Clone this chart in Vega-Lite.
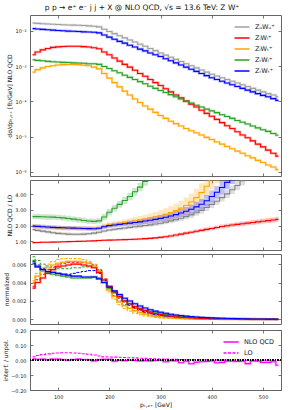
{
"$schema": "https://vega.github.io/schema/vega-lite/v6.json",
"padding": {"left": 2, "top": 3, "right": 12, "bottom": 4},
"config": {
 "font": "DejaVu Sans",
 "view": {"stroke": "#666666", "strokeWidth": 1},
 "axis": {"domain": false, "grid": false, "tickColor": "#555555", "tickSize": -3, "tickWidth": 0.8, "labelFontSize": 5, "labelColor": "#222222", "titleFontSize": 6, "titleFontWeight": "normal", "titleColor": "#111111", "labelPadding": 7, "titlePadding": 2},
 "legend": {"labelFontSize": 6.5, "labelColor": "#222222", "title": null, "padding": 2, "offset": 4, "rowPadding": 1, "symbolType": "M-1.5,0H1.5", "symbolSize": 100, "symbolStrokeWidth": 1.5, "symbolOpacity": 1, "labelOffset": 7}
},
"title": {"text": "p p → e⁺ e⁻ j j + X @ NLO QCD, √s = 13.6 TeV: Z W⁺", "fontSize": 7.5, "fontWeight": "normal", "font": "DejaVu Sans", "anchor": "middle", "offset": 3, "color": "#111111"},
"datasets": {
 "p1": [
  {"x":50,"U":0.0166,"LL":0.00209,"LT":0.000676,"TL":0.00151,"TT":0.01148},
  {"x":60,"U":0.0162,"LL":0.00251,"LT":0.000794,"TL":0.00145,"TT":0.01122},
  {"x":70,"U":0.0158,"LL":0.00288,"LT":0.000891,"TL":0.00141,"TT":0.01096},
  {"x":80,"U":0.0155,"LL":0.00316,"LT":0.000977,"TL":0.00136,"TT":0.01072},
  {"x":90,"U":0.0153,"LL":0.00339,"LT":0.00102,"TL":0.00133,"TT":0.01047},
  {"x":100,"U":0.0151,"LL":0.00351,"LT":0.00107,"TL":0.00130,"TT":0.01023},
  {"x":110,"U":0.0148,"LL":0.00359,"LT":0.00110,"TL":0.00127,"TT":0.0100},
  {"x":120,"U":0.0146,"LL":0.00363,"LT":0.00111,"TL":0.00126,"TT":0.00977},
  {"x":130,"U":0.0145,"LL":0.00363,"LT":0.00111,"TL":0.00123,"TT":0.00966},
  {"x":140,"U":0.0143,"LL":0.00363,"LT":0.00110,"TL":0.00122,"TT":0.00955},
  {"x":150,"U":0.0141,"LL":0.00355,"LT":0.00106,"TL":0.00120,"TT":0.00933},
  {"x":160,"U":0.0138,"LL":0.00347,"LT":0.00102,"TL":0.00117,"TT":0.00923},
  {"x":170,"U":0.0135,"LL":0.00331,"LT":0.000933,"TL":0.00116,"TT":0.00912},
  {"x":180,"U":0.0129,"LL":0.00309,"LT":0.000832,"TL":0.00112,"TT":0.00871},
  {"x":190,"U":0.0110,"LL":0.00251,"LT":0.000617,"TL":0.000977,"TT":0.00759},
  {"x":200,"U":0.00955,"LL":0.00209,"LT":0.000457,"TL":0.000851,"TT":0.00661},
  {"x":210,"U":0.00832,"LL":0.00170,"LT":0.000339,"TL":0.000741,"TT":0.00575},
  {"x":220,"U":0.00724,"LL":0.00138,"LT":0.000257,"TL":0.000646,"TT":0.00501},
  {"x":230,"U":0.00631,"LL":0.00112,"LT":0.000195,"TL":0.000550,"TT":0.00447},
  {"x":240,"U":0.00550,"LL":0.000933,"LT":0.000151,"TL":0.000479,"TT":0.00389},
  {"x":250,"U":0.00479,"LL":0.000759,"LT":0.000117,"TL":0.000417,"TT":0.00347},
  {"x":260,"U":0.00417,"LL":0.000617,"LT":0.0000933,"TL":0.000363,"TT":0.00302},
  {"x":270,"U":0.00363,"LL":0.000513,"LT":0.0000741,"TL":0.000316,"TT":0.00269},
  {"x":280,"U":0.00316,"LL":0.000417,"LT":0.0000603,"TL":0.000269,"TT":0.00234},
  {"x":290,"U":0.00275,"LL":0.000339,"LT":0.0000490,"TL":0.000234,"TT":0.00209},
  {"x":300,"U":0.00234,"LL":0.000282,"LT":0.0000398,"TL":0.000204,"TT":0.00186},
  {"x":310,"U":0.00204,"LL":0.000229,"LT":0.0000331,"TL":0.000178,"TT":0.00162},
  {"x":320,"U":0.00178,"LL":0.000186,"LT":0.0000275,"TL":0.000155,"TT":0.00141},
  {"x":330,"U":0.00155,"LL":0.000151,"LT":0.0000234,"TL":0.000135,"TT":0.00123},
  {"x":340,"U":0.00135,"LL":0.000126,"LT":0.0000200,"TL":0.000117,"TT":0.00107},
  {"x":350,"U":0.00117,"LL":0.000102,"LT":0.0000170,"TL":0.000102,"TT":0.000933},
  {"x":360,"U":0.00102,"LL":0.0000832,"LT":0.0000148,"TL":0.0000891,"TT":0.000813},
  {"x":370,"U":0.000891,"LL":0.0000692,"LT":0.0000129,"TL":0.0000776,"TT":0.000708},
  {"x":380,"U":0.000776,"LL":0.0000562,"LT":0.0000112,"TL":0.0000692,"TT":0.000617},
  {"x":390,"U":0.000676,"LL":0.0000457,"LT":0.00000955,"TL":0.0000603,"TT":0.000537},
  {"x":400,"U":0.000589,"LL":0.0000380,"LT":0.00000832,"TL":0.0000537,"TT":0.000468},
  {"x":410,"U":0.000525,"LL":0.0000309,"LT":0.00000708,"TL":0.0000479,"TT":0.000417},
  {"x":420,"U":0.000468,"LL":0.0000251,"LT":0.00000617,"TL":0.0000417,"TT":0.000372},
  {"x":430,"U":0.000417,"LL":0.0000204,"LT":0.00000525,"TL":0.0000372,"TT":0.000331},
  {"x":440,"U":0.000372,"LL":0.0000170,"LT":0.00000457,"TL":0.0000331,"TT":0.000295},
  {"x":450,"U":0.000331,"LL":0.0000138,"LT":0.00000389,"TL":0.0000288,"TT":0.000263},
  {"x":460,"U":0.000295,"LL":0.0000112,"LT":0.00000339,"TL":0.0000257,"TT":0.000234},
  {"x":470,"U":0.000263,"LL":0.00000933,"LT":0.00000288,"TL":0.0000229,"TT":0.000209},
  {"x":480,"U":0.000234,"LL":0.00000759,"LT":0.00000251,"TL":0.0000200,"TT":0.000186},
  {"x":490,"U":0.000209,"LL":0.00000617,"LT":0.00000214,"TL":0.0000178,"TT":0.000166},
  {"x":500,"U":0.000186,"LL":0.00000513,"LT":0.00000186,"TL":0.0000158,"TT":0.000148},
  {"x":510,"U":0.000166,"LL":0.00000417,"LT":0.00000158,"TL":0.0000141,"TT":0.000135},
  {"x":520,"U":0.000151,"LL":0.00000339,"LT":0.00000138,"TL":0.0000123,"TT":0.000120},
  {"x":530,"U":0.000135,"LL":0.00000282,"LT":0.00000117,"TL":0.0000110,"TT":0.000107}
 ],
 "p2": [
  {"s":"TL","x":50,"y":2.57,"lo":2.40,"hi":2.74},{"s":"TL","x":60,"y":2.57,"lo":2.40,"hi":2.74},{"s":"TL","x":70,"y":2.56,"lo":2.39,"hi":2.73},{"s":"TL","x":80,"y":2.55,"lo":2.38,"hi":2.72},{"s":"TL","x":90,"y":2.54,"lo":2.37,"hi":2.71},{"s":"TL","x":100,"y":2.52,"lo":2.35,"hi":2.69},{"s":"TL","x":110,"y":2.49,"lo":2.32,"hi":2.66},{"s":"TL","x":120,"y":2.45,"lo":2.28,"hi":2.62},{"s":"TL","x":130,"y":2.41,"lo":2.24,"hi":2.58},{"s":"TL","x":140,"y":2.37,"lo":2.20,"hi":2.54},{"s":"TL","x":150,"y":2.33,"lo":2.16,"hi":2.50},{"s":"TL","x":160,"y":2.29,"lo":2.12,"hi":2.46},{"s":"TL","x":170,"y":2.27,"lo":2.10,"hi":2.44},{"s":"TL","x":180,"y":2.30,"lo":2.13,"hi":2.47},{"s":"TL","x":190,"y":2.55,"lo":2.36,"hi":2.74},{"s":"TL","x":200,"y":2.85,"lo":2.65,"hi":3.05},{"s":"TL","x":210,"y":3.10,"lo":2.89,"hi":3.31},{"s":"TL","x":220,"y":3.35,"lo":3.13,"hi":3.57},{"s":"TL","x":230,"y":3.60,"lo":3.37,"hi":3.83},{"s":"TL","x":240,"y":3.85,"lo":3.61,"hi":4.09},{"s":"TL","x":250,"y":4.15,"lo":3.90,"hi":4.40},{"s":"TL","x":260,"y":4.45,"lo":4.19,"hi":4.71},{"s":"TL","x":270,"y":4.80,"lo":4.53,"hi":5.07},{"s":"TL","x":280,"y":5.15,"lo":4.87,"hi":5.43},{"s":"TL","x":290,"y":5.50,"lo":5.20,"hi":5.80},{"s":"TL","x":300,"y":5.85,"lo":5.55,"hi":6.15},
  {"s":"LT","x":50,"y":1.97,"lo":1.82,"hi":2.12},{"s":"LT","x":60,"y":1.93,"lo":1.78,"hi":2.08},{"s":"LT","x":70,"y":1.90,"lo":1.75,"hi":2.05},{"s":"LT","x":80,"y":1.88,"lo":1.73,"hi":2.03},{"s":"LT","x":90,"y":1.86,"lo":1.71,"hi":2.01},{"s":"LT","x":100,"y":1.85,"lo":1.70,"hi":2.00},{"s":"LT","x":110,"y":1.84,"lo":1.69,"hi":1.99},{"s":"LT","x":120,"y":1.83,"lo":1.68,"hi":1.98},{"s":"LT","x":130,"y":1.82,"lo":1.67,"hi":1.97},{"s":"LT","x":140,"y":1.82,"lo":1.67,"hi":1.97},{"s":"LT","x":150,"y":1.82,"lo":1.67,"hi":1.97},{"s":"LT","x":160,"y":1.83,"lo":1.68,"hi":1.98},{"s":"LT","x":170,"y":1.84,"lo":1.69,"hi":1.99},{"s":"LT","x":180,"y":1.88,"lo":1.73,"hi":2.03},{"s":"LT","x":190,"y":1.97,"lo":1.81,"hi":2.13},{"s":"LT","x":200,"y":2.05,"lo":1.88,"hi":2.22},{"s":"LT","x":210,"y":2.10,"lo":1.92,"hi":2.28},{"s":"LT","x":220,"y":2.15,"lo":1.96,"hi":2.34},{"s":"LT","x":230,"y":2.20,"lo":2.00,"hi":2.40},{"s":"LT","x":240,"y":2.25,"lo":2.03,"hi":2.47},{"s":"LT","x":250,"y":2.30,"lo":2.06,"hi":2.54},{"s":"LT","x":260,"y":2.35,"lo":2.09,"hi":2.61},{"s":"LT","x":270,"y":2.41,"lo":2.13,"hi":2.69},{"s":"LT","x":280,"y":2.48,"lo":2.18,"hi":2.78},{"s":"LT","x":290,"y":2.55,"lo":2.23,"hi":2.87},{"s":"LT","x":300,"y":2.63,"lo":2.28,"hi":2.98},{"s":"LT","x":310,"y":2.72,"lo":2.34,"hi":3.10},{"s":"LT","x":320,"y":2.83,"lo":2.42,"hi":3.24},{"s":"LT","x":330,"y":2.96,"lo":2.52,"hi":3.40},{"s":"LT","x":340,"y":3.11,"lo":2.64,"hi":3.58},{"s":"LT","x":350,"y":3.28,"lo":2.78,"hi":3.78},{"s":"LT","x":360,"y":3.50,"lo":2.97,"hi":4.03},{"s":"LT","x":370,"y":3.78,"lo":3.22,"hi":4.34},{"s":"LT","x":380,"y":4.10,"lo":3.50,"hi":4.70},{"s":"LT","x":390,"y":4.50,"lo":3.87,"hi":5.13},{"s":"LT","x":400,"y":4.95,"lo":4.28,"hi":5.62},{"s":"LT","x":410,"y":5.40,"lo":4.70,"hi":6.10},{"s":"LT","x":420,"y":5.90,"lo":5.20,"hi":6.60},{"s":"LT","x":430,"y":6.40,"lo":5.70,"hi":7.10},
  {"s":"U","x":50,"y":1.75,"lo":1.65,"hi":1.85},{"s":"U","x":60,"y":1.70,"lo":1.60,"hi":1.80},{"s":"U","x":70,"y":1.65,"lo":1.55,"hi":1.75},{"s":"U","x":80,"y":1.60,"lo":1.50,"hi":1.70},{"s":"U","x":90,"y":1.55,"lo":1.45,"hi":1.65},{"s":"U","x":100,"y":1.51,"lo":1.41,"hi":1.61},{"s":"U","x":110,"y":1.48,"lo":1.38,"hi":1.58},{"s":"U","x":120,"y":1.46,"lo":1.36,"hi":1.56},{"s":"U","x":130,"y":1.45,"lo":1.35,"hi":1.55},{"s":"U","x":140,"y":1.45,"lo":1.35,"hi":1.55},{"s":"U","x":150,"y":1.46,"lo":1.36,"hi":1.56},{"s":"U","x":160,"y":1.48,"lo":1.38,"hi":1.58},{"s":"U","x":170,"y":1.52,"lo":1.42,"hi":1.62},{"s":"U","x":180,"y":1.58,"lo":1.48,"hi":1.68},{"s":"U","x":190,"y":1.66,"lo":1.56,"hi":1.76},{"s":"U","x":200,"y":1.72,"lo":1.62,"hi":1.82},{"s":"U","x":210,"y":1.77,"lo":1.66,"hi":1.88},{"s":"U","x":220,"y":1.81,"lo":1.70,"hi":1.92},{"s":"U","x":230,"y":1.85,"lo":1.74,"hi":1.96},{"s":"U","x":240,"y":1.89,"lo":1.78,"hi":2.00},{"s":"U","x":250,"y":1.93,"lo":1.81,"hi":2.05},{"s":"U","x":260,"y":1.97,"lo":1.85,"hi":2.09},{"s":"U","x":270,"y":2.01,"lo":1.89,"hi":2.13},{"s":"U","x":280,"y":2.05,"lo":1.93,"hi":2.17},{"s":"U","x":290,"y":2.10,"lo":1.97,"hi":2.23},{"s":"U","x":300,"y":2.15,"lo":2.02,"hi":2.28},{"s":"U","x":310,"y":2.22,"lo":2.08,"hi":2.36},{"s":"U","x":320,"y":2.30,"lo":2.15,"hi":2.45},{"s":"U","x":330,"y":2.38,"lo":2.22,"hi":2.54},{"s":"U","x":340,"y":2.47,"lo":2.30,"hi":2.64},{"s":"U","x":350,"y":2.57,"lo":2.39,"hi":2.75},{"s":"U","x":360,"y":2.68,"lo":2.49,"hi":2.87},{"s":"U","x":370,"y":2.82,"lo":2.62,"hi":3.02},{"s":"U","x":380,"y":2.97,"lo":2.76,"hi":3.18},{"s":"U","x":390,"y":3.15,"lo":2.93,"hi":3.37},{"s":"U","x":400,"y":3.35,"lo":3.12,"hi":3.58},{"s":"U","x":410,"y":3.55,"lo":3.31,"hi":3.79},{"s":"U","x":420,"y":3.78,"lo":3.53,"hi":4.03},{"s":"U","x":430,"y":4.02,"lo":3.76,"hi":4.28},{"s":"U","x":440,"y":4.28,"lo":4.01,"hi":4.55},{"s":"U","x":450,"y":4.55,"lo":4.27,"hi":4.83},{"s":"U","x":460,"y":4.85,"lo":4.56,"hi":5.14},{"s":"U","x":470,"y":5.15,"lo":4.85,"hi":5.45},{"s":"U","x":480,"y":5.45,"lo":5.15,"hi":5.75},{"s":"U","x":490,"y":5.75,"lo":5.45,"hi":6.05},
  {"s":"TT","x":50,"y":1.97,"lo":1.85,"hi":2.09},{"s":"TT","x":60,"y":1.95,"lo":1.83,"hi":2.07},{"s":"TT","x":70,"y":1.93,"lo":1.81,"hi":2.05},{"s":"TT","x":80,"y":1.91,"lo":1.79,"hi":2.03},{"s":"TT","x":90,"y":1.89,"lo":1.77,"hi":2.01},{"s":"TT","x":100,"y":1.87,"lo":1.75,"hi":1.99},{"s":"TT","x":110,"y":1.86,"lo":1.74,"hi":1.98},{"s":"TT","x":120,"y":1.85,"lo":1.73,"hi":1.97},{"s":"TT","x":130,"y":1.84,"lo":1.72,"hi":1.96},{"s":"TT","x":140,"y":1.83,"lo":1.71,"hi":1.95},{"s":"TT","x":150,"y":1.82,"lo":1.70,"hi":1.94},{"s":"TT","x":160,"y":1.81,"lo":1.69,"hi":1.93},{"s":"TT","x":170,"y":1.80,"lo":1.68,"hi":1.92},{"s":"TT","x":180,"y":1.83,"lo":1.71,"hi":1.95},{"s":"TT","x":190,"y":1.93,"lo":1.80,"hi":2.06},{"s":"TT","x":200,"y":2.00,"lo":1.87,"hi":2.13},{"s":"TT","x":210,"y":2.04,"lo":1.90,"hi":2.18},{"s":"TT","x":220,"y":2.08,"lo":1.94,"hi":2.22},{"s":"TT","x":230,"y":2.12,"lo":1.97,"hi":2.27},{"s":"TT","x":240,"y":2.16,"lo":2.00,"hi":2.32},{"s":"TT","x":250,"y":2.20,"lo":2.03,"hi":2.37},{"s":"TT","x":260,"y":2.24,"lo":2.06,"hi":2.42},{"s":"TT","x":270,"y":2.29,"lo":2.10,"hi":2.48},{"s":"TT","x":280,"y":2.34,"lo":2.14,"hi":2.54},{"s":"TT","x":290,"y":2.40,"lo":2.19,"hi":2.61},{"s":"TT","x":300,"y":2.46,"lo":2.24,"hi":2.68},{"s":"TT","x":310,"y":2.53,"lo":2.30,"hi":2.76},{"s":"TT","x":320,"y":2.61,"lo":2.37,"hi":2.85},{"s":"TT","x":330,"y":2.70,"lo":2.45,"hi":2.95},{"s":"TT","x":340,"y":2.80,"lo":2.54,"hi":3.06},{"s":"TT","x":350,"y":2.91,"lo":2.63,"hi":3.19},{"s":"TT","x":360,"y":3.04,"lo":2.74,"hi":3.34},{"s":"TT","x":370,"y":3.19,"lo":2.87,"hi":3.51},{"s":"TT","x":380,"y":3.36,"lo":3.02,"hi":3.70},{"s":"TT","x":390,"y":3.58,"lo":3.22,"hi":3.94},{"s":"TT","x":400,"y":3.85,"lo":3.47,"hi":4.23},{"s":"TT","x":410,"y":4.12,"lo":3.72,"hi":4.52},{"s":"TT","x":420,"y":4.42,"lo":4.00,"hi":4.84},{"s":"TT","x":430,"y":4.75,"lo":4.31,"hi":5.19},{"s":"TT","x":440,"y":5.10,"lo":4.64,"hi":5.56},{"s":"TT","x":450,"y":5.45,"lo":4.97,"hi":5.93},{"s":"TT","x":460,"y":5.80,"lo":5.30,"hi":6.30},{"s":"TT","x":470,"y":6.15,"lo":5.65,"hi":6.65},
  {"s":"LL","x":50,"y":0.92,"lo":0.86,"hi":0.98},{"s":"LL","x":60,"y":0.93,"lo":0.87,"hi":0.99},{"s":"LL","x":70,"y":0.94,"lo":0.88,"hi":1.00},{"s":"LL","x":80,"y":0.94,"lo":0.88,"hi":1.00},{"s":"LL","x":90,"y":0.95,"lo":0.89,"hi":1.01},{"s":"LL","x":100,"y":0.96,"lo":0.90,"hi":1.02},{"s":"LL","x":110,"y":0.97,"lo":0.91,"hi":1.03},{"s":"LL","x":120,"y":0.98,"lo":0.92,"hi":1.04},{"s":"LL","x":130,"y":0.99,"lo":0.93,"hi":1.05},{"s":"LL","x":140,"y":1.00,"lo":0.94,"hi":1.06},{"s":"LL","x":150,"y":1.01,"lo":0.95,"hi":1.07},{"s":"LL","x":160,"y":1.02,"lo":0.96,"hi":1.08},{"s":"LL","x":170,"y":1.03,"lo":0.97,"hi":1.09},{"s":"LL","x":180,"y":1.05,"lo":0.99,"hi":1.11},{"s":"LL","x":190,"y":1.07,"lo":1.00,"hi":1.14},{"s":"LL","x":200,"y":1.08,"lo":1.01,"hi":1.15},{"s":"LL","x":210,"y":1.09,"lo":1.02,"hi":1.16},{"s":"LL","x":220,"y":1.10,"lo":1.03,"hi":1.17},{"s":"LL","x":230,"y":1.11,"lo":1.04,"hi":1.18},{"s":"LL","x":240,"y":1.12,"lo":1.05,"hi":1.19},{"s":"LL","x":250,"y":1.13,"lo":1.05,"hi":1.21},{"s":"LL","x":260,"y":1.15,"lo":1.07,"hi":1.23},{"s":"LL","x":270,"y":1.17,"lo":1.09,"hi":1.25},{"s":"LL","x":280,"y":1.19,"lo":1.11,"hi":1.27},{"s":"LL","x":290,"y":1.22,"lo":1.14,"hi":1.30},{"s":"LL","x":300,"y":1.25,"lo":1.16,"hi":1.34},{"s":"LL","x":310,"y":1.29,"lo":1.20,"hi":1.38},{"s":"LL","x":320,"y":1.34,"lo":1.25,"hi":1.43},{"s":"LL","x":330,"y":1.40,"lo":1.30,"hi":1.50},{"s":"LL","x":340,"y":1.46,"lo":1.36,"hi":1.56},{"s":"LL","x":350,"y":1.52,"lo":1.42,"hi":1.62},{"s":"LL","x":360,"y":1.58,"lo":1.47,"hi":1.69},{"s":"LL","x":370,"y":1.64,"lo":1.53,"hi":1.75},{"s":"LL","x":380,"y":1.70,"lo":1.59,"hi":1.81},{"s":"LL","x":390,"y":1.76,"lo":1.64,"hi":1.88},{"s":"LL","x":400,"y":1.82,"lo":1.70,"hi":1.94},{"s":"LL","x":410,"y":1.88,"lo":1.76,"hi":2.00},{"s":"LL","x":420,"y":1.94,"lo":1.81,"hi":2.07},{"s":"LL","x":430,"y":1.99,"lo":1.86,"hi":2.12},{"s":"LL","x":440,"y":2.04,"lo":1.91,"hi":2.17},{"s":"LL","x":450,"y":2.08,"lo":1.94,"hi":2.22},{"s":"LL","x":460,"y":2.12,"lo":1.98,"hi":2.26},{"s":"LL","x":470,"y":2.16,"lo":2.02,"hi":2.30},{"s":"LL","x":480,"y":2.20,"lo":2.05,"hi":2.35},{"s":"LL","x":490,"y":2.24,"lo":2.09,"hi":2.39},{"s":"LL","x":500,"y":2.28,"lo":2.13,"hi":2.43},{"s":"LL","x":510,"y":2.32,"lo":2.16,"hi":2.48},{"s":"LL","x":520,"y":2.36,"lo":2.20,"hi":2.52},{"s":"LL","x":530,"y":2.40,"lo":2.24,"hi":2.56}
 ],
 "p3": [
  {"x":50,"LL":0.0034,"LT":0.0040,"TL":0.0064,"TT":0.0061,"dLL":0.0036,"dLT":0.0042,"dTL":0.0068,"dTT":0.0063},
  {"x":60,"LL":0.0040,"LT":0.0047,"TL":0.0058,"TT":0.0057,"dLL":0.0043,"dLT":0.0050,"dTL":0.0064,"dTT":0.0059},
  {"x":70,"LL":0.0045,"LT":0.0052,"TL":0.0054,"TT":0.0054,"dLL":0.0049,"dLT":0.0056,"dTL":0.0060,"dTT":0.0055},
  {"x":80,"LL":0.0050,"LT":0.0056,"TL":0.0051,"TT":0.0052,"dLL":0.0054,"dLT":0.0060,"dTL":0.0058,"dTT":0.0052},
  {"x":90,"LL":0.0054,"LT":0.0059,"TL":0.0049,"TT":0.0051,"dLL":0.0057,"dLT":0.0063,"dTL":0.0056,"dTT":0.0051},
  {"x":100,"LL":0.0057,"LT":0.0061,"TL":0.0048,"TT":0.0050,"dLL":0.0059,"dLT":0.0065,"dTL":0.0055,"dTT":0.0050},
  {"x":110,"LL":0.0058,"LT":0.0062,"TL":0.0047,"TT":0.0049,"dLL":0.0061,"dLT":0.0066,"dTL":0.0055,"dTT":0.0049},
  {"x":120,"LL":0.0059,"LT":0.0063,"TL":0.0046,"TT":0.0048,"dLL":0.0062,"dLT":0.0066,"dTL":0.0055,"dTT":0.0049},
  {"x":130,"LL":0.0060,"LT":0.0063,"TL":0.0045,"TT":0.0047,"dLL":0.0062,"dLT":0.0066,"dTL":0.0056,"dTT":0.0050},
  {"x":140,"LL":0.0060,"LT":0.0063,"TL":0.0045,"TT":0.0047,"dLL":0.0062,"dLT":0.0066,"dTL":0.0056,"dTT":0.0051},
  {"x":150,"LL":0.0059,"LT":0.0062,"TL":0.0045,"TT":0.0046,"dLL":0.0062,"dLT":0.0065,"dTL":0.0057,"dTT":0.0052},
  {"x":160,"LL":0.0058,"LT":0.0061,"TL":0.0045,"TT":0.0046,"dLL":0.0061,"dLT":0.0063,"dTL":0.0057,"dTT":0.0053},
  {"x":170,"LL":0.0056,"LT":0.0058,"TL":0.0046,"TT":0.0046,"dLL":0.0059,"dLT":0.0060,"dTL":0.0057,"dTT":0.0053},
  {"x":180,"LL":0.0051,"LT":0.0052,"TL":0.0045,"TT":0.0044,"dLL":0.0054,"dLT":0.0053,"dTL":0.0053,"dTT":0.0050},
  {"x":190,"LL":0.0043,"LT":0.0041,"TL":0.0040,"TT":0.0040,"dLL":0.0044,"dLT":0.0040,"dTL":0.0042,"dTT":0.0042},
  {"x":200,"LL":0.0036,"LT":0.0032,"TL":0.0034,"TT":0.0035,"dLL":0.0036,"dLT":0.0030,"dTL":0.0033,"dTT":0.0035},
  {"x":210,"LL":0.0030,"LT":0.0025,"TL":0.0029,"TT":0.0031,"dLL":0.0029,"dLT":0.0022,"dTL":0.0026,"dTT":0.0029},
  {"x":220,"LL":0.0025,"LT":0.0019,"TL":0.0024,"TT":0.0027,"dLL":0.0023,"dLT":0.0016,"dTL":0.0020,"dTT":0.0024},
  {"x":230,"LL":0.0020,"LT":0.0015,"TL":0.0020,"TT":0.0023,"dLL":0.0019,"dLT":0.0012,"dTL":0.0016,"dTT":0.0020},
  {"x":240,"LL":0.0017,"LT":0.0012,"TL":0.0017,"TT":0.0020,"dLL":0.0015,"dLT":0.0009,"dTL":0.0012,"dTT":0.0016},
  {"x":250,"LL":0.0014,"LT":0.00092,"TL":0.0014,"TT":0.0017,"dLL":0.0012,"dLT":0.00067,"dTL":0.00095,"dTT":0.0013},
  {"x":260,"LL":0.00115,"LT":0.00072,"TL":0.0012,"TT":0.00145,"dLL":0.00095,"dLT":0.0005,"dTL":0.00074,"dTT":0.00105},
  {"x":270,"LL":0.00095,"LT":0.00057,"TL":0.0010,"TT":0.00123,"dLL":0.00076,"dLT":0.00037,"dTL":0.00058,"dTT":0.00085},
  {"x":280,"LL":0.00078,"LT":0.00045,"TL":0.00085,"TT":0.00105,"dLL":0.0006,"dLT":0.00028,"dTL":0.00045,"dTT":0.00068},
  {"x":290,"LL":0.00064,"LT":0.00036,"TL":0.00072,"TT":0.0009,"dLL":0.00048,"dLT":0.00021,"dTL":0.00035,"dTT":0.00055},
  {"x":300,"LL":0.00053,"LT":0.00029,"TL":0.00062,"TT":0.00077,"dLL":0.00038,"dLT":0.00016,"dTL":0.00027,"dTT":0.00044},
  {"x":310,"LL":0.00044,"LT":0.00023,"TL":0.00053,"TT":0.00066,"dLL":0.0003,"dLT":0.00012,"dTL":0.00021,"dTT":0.00035},
  {"x":320,"LL":0.00036,"LT":0.00019,"TL":0.00045,"TT":0.00056,"dLL":0.00024,"dLT":0.00009,"dTL":0.00016,"dTT":0.00028},
  {"x":330,"LL":0.00029,"LT":0.00015,"TL":0.00038,"TT":0.00048,"dLL":0.00019,"dLT":0.00007,"dTL":0.00013,"dTT":0.00022},
  {"x":340,"LL":0.00024,"LT":0.00012,"TL":0.00032,"TT":0.00041,"dLL":0.00015,"dLT":0.00005,"dTL":0.0001,"dTT":0.00018},
  {"x":350,"LL":0.00019,"LT":0.0001,"TL":0.00027,"TT":0.00035,"dLL":0.00012,"dLT":0.00004,"dTL":0.00008,"dTT":0.00014},
  {"x":360,"LL":0.00016,"LT":0.00008,"TL":0.00023,"TT":0.0003,"dLL":0.0001,"dLT":0.00003,"dTL":0.00006,"dTT":0.00011},
  {"x":370,"LL":0.00013,"LT":0.00007,"TL":0.0002,"TT":0.00026,"dLL":0.00008,"dLT":0.00002,"dTL":0.00005,"dTT":0.00009},
  {"x":380,"LL":0.00011,"LT":0.00006,"TL":0.00017,"TT":0.00022,"dLL":0.00006,"dLT":0.00002,"dTL":0.00004,"dTT":0.00007},
  {"x":390,"LL":0.00009,"LT":0.00005,"TL":0.00014,"TT":0.00019,"dLL":0.00005,"dLT":0.00001,"dTL":0.00003,"dTT":0.00006},
  {"x":400,"LL":0.00007,"LT":0.00004,"TL":0.00012,"TT":0.00016,"dLL":0.00004,"dLT":0.00001,"dTL":0.00002,"dTT":0.00005},
  {"x":410,"LL":0.00006,"LT":0.00003,"TL":0.0001,"TT":0.00014,"dLL":0.00003,"dLT":0.00001,"dTL":0.00002,"dTT":0.00004},
  {"x":420,"LL":0.00005,"LT":0.00003,"TL":0.00009,"TT":0.00012,"dLL":0.00003,"dLT":0.00001,"dTL":0.00002,"dTT":0.00003},
  {"x":430,"LL":0.00004,"LT":0.00002,"TL":0.00008,"TT":0.0001,"dLL":0.00002,"dLT":0.00001,"dTL":0.00001,"dTT":0.00003},
  {"x":440,"LL":0.00003,"LT":0.00002,"TL":0.00007,"TT":0.00009,"dLL":0.00002,"dLT":0.0,"dTL":0.00001,"dTT":0.00002},
  {"x":450,"LL":0.00003,"LT":0.00002,"TL":0.00006,"TT":0.00008,"dLL":0.00001,"dLT":0.0,"dTL":0.00001,"dTT":0.00002},
  {"x":460,"LL":0.00002,"LT":0.00001,"TL":0.00005,"TT":0.00007,"dLL":0.00001,"dLT":0.0,"dTL":0.00001,"dTT":0.00002},
  {"x":470,"LL":0.00002,"LT":0.00001,"TL":0.00004,"TT":0.00006,"dLL":0.00001,"dLT":0.0,"dTL":0.00001,"dTT":0.00001},
  {"x":480,"LL":0.00001,"LT":0.00001,"TL":0.00004,"TT":0.00005,"dLL":0.00001,"dLT":0.0,"dTL":0.0,"dTT":0.00001},
  {"x":490,"LL":0.00001,"LT":0.00001,"TL":0.00003,"TT":0.00004,"dLL":0.0,"dLT":0.0,"dTL":0.0,"dTT":0.00001},
  {"x":500,"LL":0.00001,"LT":0.00001,"TL":0.00003,"TT":0.00004,"dLL":0.0,"dLT":0.0,"dTL":0.0,"dTT":0.00001},
  {"x":510,"LL":0.00001,"LT":0.00001,"TL":0.00002,"TT":0.00003,"dLL":0.0,"dLT":0.0,"dTL":0.0,"dTT":0.00001},
  {"x":520,"LL":0.00001,"LT":0.0,"TL":0.00002,"TT":0.00003,"dLL":0.0,"dLT":0.0,"dTL":0.0,"dTT":0.0},
  {"x":530,"LL":0.00001,"LT":0.0,"TL":0.00002,"TT":0.00002,"dLL":0.0,"dLT":0.0,"dTL":0.0,"dTT":0.0}
 ],
 "p4": [
  {"x":50,"nlo":0.008,"lo":0.022},{"x":60,"nlo":0.005,"lo":0.030},{"x":70,"nlo":0.006,"lo":0.036},{"x":80,"nlo":0.002,"lo":0.041},{"x":90,"nlo":0.006,"lo":0.045},{"x":100,"nlo":0.006,"lo":0.047},{"x":110,"nlo":0.002,"lo":0.048},{"x":120,"nlo":-0.002,"lo":0.048},{"x":130,"nlo":0.003,"lo":0.047},{"x":140,"nlo":0.006,"lo":0.045},{"x":150,"nlo":0.003,"lo":0.042},{"x":160,"nlo":0.002,"lo":0.038},{"x":170,"nlo":-0.006,"lo":0.033},{"x":180,"nlo":0.002,"lo":0.027},{"x":190,"nlo":0.004,"lo":0.021},{"x":200,"nlo":0.005,"lo":0.020},{"x":210,"nlo":-0.008,"lo":0.019},{"x":220,"nlo":-0.002,"lo":0.018},{"x":230,"nlo":-0.004,"lo":0.017},{"x":240,"nlo":-0.002,"lo":0.015},{"x":250,"nlo":-0.003,"lo":0.014},{"x":260,"nlo":-0.006,"lo":0.012},{"x":270,"nlo":-0.004,"lo":0.011},{"x":280,"nlo":-0.006,"lo":0.009},{"x":290,"nlo":-0.003,"lo":0.008},{"x":300,"nlo":-0.002,"lo":0.007},{"x":310,"nlo":-0.012,"lo":0.006},{"x":320,"nlo":-0.004,"lo":0.005},{"x":330,"nlo":-0.006,"lo":0.004},{"x":340,"nlo":-0.018,"lo":0.003},{"x":350,"nlo":-0.008,"lo":0.002},{"x":360,"nlo":-0.025,"lo":0.002},{"x":370,"nlo":-0.014,"lo":0.001},{"x":380,"nlo":-0.012,"lo":0.001},{"x":390,"nlo":-0.010,"lo":0.001},{"x":400,"nlo":-0.006,"lo":0.000},{"x":410,"nlo":-0.018,"lo":0.000},{"x":420,"nlo":-0.016,"lo":-0.001},{"x":430,"nlo":-0.008,"lo":-0.001},{"x":440,"nlo":-0.008,"lo":-0.001},{"x":450,"nlo":-0.010,"lo":-0.001},{"x":460,"nlo":-0.008,"lo":-0.002},{"x":470,"nlo":-0.024,"lo":-0.002},{"x":480,"nlo":-0.006,"lo":-0.002},{"x":490,"nlo":-0.008,"lo":-0.002},{"x":500,"nlo":-0.016,"lo":-0.002},{"x":510,"nlo":-0.016,"lo":-0.002},{"x":520,"nlo":-0.012,"lo":-0.003},{"x":530,"nlo":-0.035,"lo":-0.003}
 ]
},
"spacing": 2,
"resolve": {"scale": {"color": "independent", "strokeDash": "independent"}, "legend": {"color": "independent", "strokeDash": "independent"}},
"vconcat": [
 {
  "width": 251, "height": 161,
  "data": {"name": "p1"},
  "transform": [{"fold": ["U", "LL", "LT", "TL", "TT"], "as": ["s", "v"]}],
  "layer": [
   {"mark": {"type": "line", "interpolate": "step", "strokeWidth": 2.6, "opacity": 0.28, "clip": true},
    "encoding": {
     "x": {"field": "x", "type": "quantitative", "scale": {"domain": [45, 535], "nice": false, "zero": false}, "axis": {"orient": "bottom", "labels": false, "title": null, "values": [100, 200, 300, 400, 500]}},
     "y": {"field": "v", "type": "quantitative", "scale": {"type": "log", "domain": [7.7e-7, 0.028], "nice": false}, "axis": {"orient": "left", "title": "dσ/dpₜ,ₑ₊  [fb/GeV] NLO QCD", "values": [0.000001, 0.00001, 0.0001, 0.001, 0.01], "labelExpr": "datum.value > 0.005 ? '10⁻²' : datum.value > 0.0005 ? '10⁻³' : datum.value > 0.00005 ? '10⁻⁴' : datum.value > 0.000005 ? '10⁻⁵' : '10⁻⁶'"}},
     "color": {"field": "s", "type": "nominal", "sort": null, "scale": {"domain": ["U", "LL", "LT", "TL", "TT"], "range": ["#a0a0a0", "#ff0000", "#ffa500", "#2ca02c", "#0000ff"]},
      "legend": {"orient": "top-right", "labelExpr": "datum.label == 'U' ? 'ZᵤWᵤ⁺' : datum.label == 'LL' ? 'ZₗWₗ⁺' : datum.label == 'LT' ? 'ZₗWₜ⁺' : datum.label == 'TL' ? 'ZₜWₗ⁺' : 'ZₜWₜ⁺'"}}
    }},
   {"mark": {"type": "line", "interpolate": "step", "strokeWidth": 1.1, "clip": true},
    "encoding": {
     "x": {"field": "x", "type": "quantitative", "axis": {"orient": "top", "labels": false, "title": null, "values": [100, 200, 300, 400, 500]}},
     "y": {"field": "v", "type": "quantitative", "axis": {"orient": "right", "labels": false, "title": null, "values": [0.000001, 0.00001, 0.0001, 0.001, 0.01]}},
     "color": {"field": "s", "type": "nominal", "sort": null}
    }}
  ],
  "resolve": {"axis": {"x": "independent", "y": "independent"}}
 },
 {
  "width": 251, "height": 70,
  "data": {"name": "p2"},
  "layer": [
   {"mark": {"type": "area", "interpolate": "step", "opacity": 0.25, "clip": true},
    "encoding": {
     "x": {"field": "x", "type": "quantitative", "scale": {"domain": [45, 535], "nice": false, "zero": false}, "axis": {"orient": "bottom", "labels": false, "title": null, "values": [100, 200, 300, 400, 500]}},
     "y": {"field": "lo", "type": "quantitative", "scale": {"domain": [0.45, 4.9], "nice": false, "zero": false}, "axis": {"orient": "left", "title": "NLO QCD / LO", "values": [1, 2, 3, 4], "format": ".2f"}},
     "y2": {"field": "hi"},
     "color": {"field": "s", "type": "nominal", "sort": null, "scale": {"domain": ["U", "LL", "LT", "TL", "TT"], "range": ["#808080", "#ff0000", "#ffa500", "#2ca02c", "#0000ff"]}, "legend": null}
    }},
   {"mark": {"type": "line", "interpolate": "step", "strokeWidth": 1.1, "clip": true},
    "encoding": {
     "x": {"field": "x", "type": "quantitative", "axis": {"orient": "top", "labels": false, "title": null, "values": [100, 200, 300, 400, 500]}},
     "y": {"field": "y", "type": "quantitative", "axis": {"orient": "right", "labels": false, "title": null, "values": [1, 2, 3, 4]}},
     "color": {"field": "s", "type": "nominal", "sort": null, "legend": null}
    }}
  ],
  "resolve": {"axis": {"x": "independent", "y": "independent"}}
 },
 {
  "width": 251, "height": 70,
  "data": {"name": "p3"},
  "layer": [
   {"transform": [{"fold": ["TL", "LT", "LL", "TT"], "as": ["s", "v"]}],
    "mark": {"type": "line", "interpolate": "step", "strokeWidth": 2.4, "opacity": 0.28, "clip": true},
    "encoding": {
     "x": {"field": "x", "type": "quantitative", "scale": {"domain": [45, 535], "nice": false, "zero": false}, "axis": {"orient": "bottom", "labels": false, "title": null, "values": [100, 200, 300, 400, 500]}},
     "y": {"field": "v", "type": "quantitative", "scale": {"domain": [-0.0005, 0.0071], "nice": false, "zero": false}, "axis": {"orient": "left", "title": "normalized", "values": [0, 0.002, 0.004, 0.006], "format": ".3f"}},
     "color": {"field": "s", "type": "nominal", "sort": null, "scale": {"domain": ["LL", "LT", "TL", "TT", "dLL", "dLT", "dTL", "dTT"], "range": ["#ff0000", "#ffa500", "#2ca02c", "#0000ff", "#ff0000", "#ffa500", "#2ca02c", "#0000ff"]}, "legend": null}
    }},
   {"transform": [{"fold": ["dTL", "dLT", "dLL", "dTT"], "as": ["s", "v"]}],
    "mark": {"type": "line", "interpolate": "step", "strokeWidth": 1, "strokeDash": [3, 1.5], "clip": true},
    "encoding": {
     "x": {"field": "x", "type": "quantitative", "axis": null},
     "y": {"field": "v", "type": "quantitative", "axis": null},
     "color": {"field": "s", "type": "nominal", "sort": null, "legend": null}
    }},
   {"transform": [{"fold": ["TL", "LT", "LL", "TT"], "as": ["s", "v"]}],
    "mark": {"type": "line", "interpolate": "step", "strokeWidth": 1.1, "clip": true},
    "encoding": {
     "x": {"field": "x", "type": "quantitative", "axis": {"orient": "top", "labels": false, "title": null, "values": [100, 200, 300, 400, 500]}},
     "y": {"field": "v", "type": "quantitative", "axis": {"orient": "right", "labels": false, "title": null, "values": [0, 0.002, 0.004, 0.006]}},
     "color": {"field": "s", "type": "nominal", "sort": null, "legend": null}
    }}
  ],
  "resolve": {"axis": {"x": "independent", "y": "independent"}}
 },
 {
  "width": 251, "height": 60,
  "data": {"name": "p4"},
  "layer": [
   {"transform": [{"fold": ["nlo"], "as": ["k", "v"]}],
    "mark": {"type": "line", "interpolate": "step", "strokeWidth": 2.6, "opacity": 0.25, "color": "#ff00ff", "clip": true},
    "encoding": {
     "x": {"field": "x", "type": "quantitative", "scale": {"domain": [45, 535], "nice": false, "zero": false}, "axis": {"orient": "top", "labels": false, "title": null, "values": [100, 200, 300, 400, 500]}},
     "y": {"field": "v", "type": "quantitative", "scale": {"domain": [-0.2, 0.2], "nice": false, "zero": false}, "axis": null}
    }},
   {"transform": [{"fold": ["nlo", "lo"], "as": ["k", "v"]}],
    "mark": {"type": "line", "interpolate": "step", "strokeWidth": 1.1, "color": "#ff00ff", "clip": true},
    "encoding": {
     "x": {"field": "x", "type": "quantitative", "axis": {"orient": "bottom", "title": "pₜ,ₑ₊  [GeV]", "values": [100, 200, 300, 400, 500], "format": "d"}},
     "y": {"field": "v", "type": "quantitative", "axis": {"orient": "left", "title": "interf. / unpol.", "values": [-0.2, -0.1, 0, 0.1, 0.2], "format": ".2f"}},
     "strokeDash": {"field": "k", "type": "nominal", "sort": null, "scale": {"domain": ["nlo", "lo"], "range": [[1, 0], [3, 1.5]]}, "legend": {"orient": "top-right", "symbolStrokeColor": "#ff00ff", "labelExpr": "datum.label == 'nlo' ? 'NLO QCD' : 'LO'"}}
    }},
   {"mark": {"type": "rule", "color": "#000000", "strokeWidth": 0.8, "strokeDash": [1, 1.5]},
    "encoding": {
     "y": {"datum": 0, "type": "quantitative", "axis": {"orient": "right", "labels": false, "title": null, "values": [-0.2, -0.1, 0, 0.1, 0.2]}}
    }}
  ],
  "resolve": {"axis": {"x": "independent", "y": "independent"}}
 }
]
}
